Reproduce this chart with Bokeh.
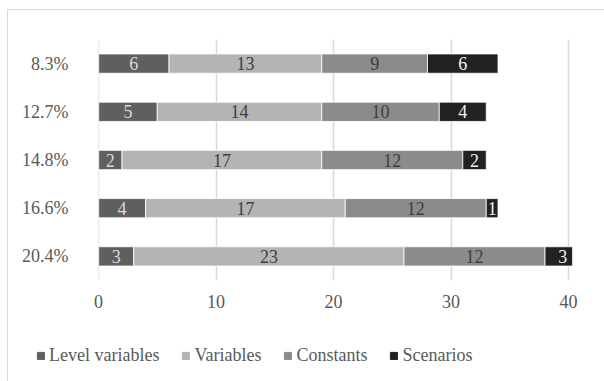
from bokeh.plotting import figure
from bokeh.layouts import column
from bokeh.models import ColumnDataSource, Legend, LegendItem, FixedTicker, Span
from bokeh.core.properties import value
from bokeh.embed import file_html
from bokeh.resources import INLINE

# Share of each category (bottom to top) and the counts per component
categories = ["20.4%", "16.6%", "14.8%", "12.7%", "8.3%"]
level_variables = [3, 4, 2, 5, 6]
variables = [23, 17, 17, 14, 13]
constants = [12, 12, 12, 10, 9]
scenarios = [3, 1, 2, 4, 6]

series_names = ["Level variables", "Variables", "Constants", "Scenarios"]
series_keys = ["level", "vars", "consts", "scen"]
colors = ["#5f5f5f", "#b4b4b4", "#8b8b8b", "#212121"]
label_colors = ["#d9d9d9", "#404040", "#404040", "#f2f2f2"]

FONT = "Liberation Serif"
FONT_CSS = '"Liberation Serif", serif'
GREY_TEXT = "#595959"
GRID = "#d9d9d9"

data = {"cat": categories, "level": level_variables, "vars": variables,
        "consts": constants, "scen": scenarios}
source = ColumnDataSource(data)

# ---- main chart ----
p = figure(frame_width=473, frame_height=240, y_range=categories, x_range=(0, 40.34),
           output_backend="svg", toolbar_location=None,
           min_border_left=90, min_border_right=33,
           min_border_top=29, min_border_bottom=45)
p.outline_line_color = None
p.background_fill_color = "white"
p.border_fill_color = "white"
# light frame around the chart (left and top edges are visible)
p.styles = {"margin-left": "7px", "margin-top": "9px",
            "border-left": f"1px solid {GRID}", "border-top": f"1px solid {GRID}"}

p.xgrid.grid_line_color = GRID
p.xgrid.grid_line_width = 1.5
p.ygrid.grid_line_color = None
p.add_layout(Span(location=0, dimension="height", line_color=GRID, line_width=1.5))

renderers = p.hbar_stack(series_keys, y="cat", height=0.4, color=colors,
                         line_color="white", line_width=0.8, source=source)

# Segment value labels at the middle of each stacked piece
cols = [level_variables, variables, constants, scenarios]
starts = [0] * len(categories)
for vals, lc in zip(cols, label_colors):
    mids = [s + v / 2 for s, v in zip(starts, vals)]
    lsrc = ColumnDataSource(dict(x=mids, y=categories, t=[str(v) for v in vals]))
    p.text(x="x", y="y", text="t", source=lsrc, text_align="center",
           text_baseline="middle", text_font=value(FONT),
           text_font_size="18px", text_color=lc)
    starts = [s + v for s, v in zip(starts, vals)]

p.xaxis.ticker = FixedTicker(ticks=[0, 10, 20, 30, 40])
for ax in (p.xaxis[0], p.yaxis[0]):
    ax.axis_line_color = None
    ax.major_tick_line_color = None
    ax.minor_tick_line_color = None
    ax.major_tick_out = 0
    ax.major_tick_in = 0
    ax.major_label_text_font = FONT
    ax.major_label_text_font_size = "18px"
    ax.major_label_text_color = GREY_TEXT
p.xaxis.major_label_standoff = 14
p.yaxis.major_label_standoff = 30

# ---- legend strip below the chart ----
leg = figure(frame_width=596, frame_height=60, x_range=(0, 1), y_range=(0, 1),
             output_backend="svg", toolbar_location=None,
             x_axis_location=None, y_axis_location=None,
             min_border=0)
leg.outline_line_color = None
leg.background_fill_color = "white"
leg.border_fill_color = "white"
leg.xgrid.visible = False
leg.ygrid.visible = False
leg.styles = {"margin-left": "7px", "border-left": f"1px solid {GRID}"}

# swatch renderers sit outside the visible range; only their legend glyphs show
swatches = [leg.quad(left=[5], right=[6], bottom=[5], top=[6], color=c, line_color=c)
            for c in colors]
legend = Legend(items=[LegendItem(label=n, renderers=[r]) for n, r in zip(series_names, swatches)],
                orientation="horizontal", location=(28, 18),
                glyph_width=9, glyph_height=9, label_standoff=4, spacing=22,
                padding=0, margin=0, border_line_color=None,
                background_fill_alpha=0,
                label_text_font=FONT_CSS, label_text_font_size="18px",
                label_text_color=GREY_TEXT, label_height=18)
leg.add_layout(legend, "center")

layout = column(p, leg, spacing=0)
open("out.html", "w").write(file_html(layout, INLINE))
